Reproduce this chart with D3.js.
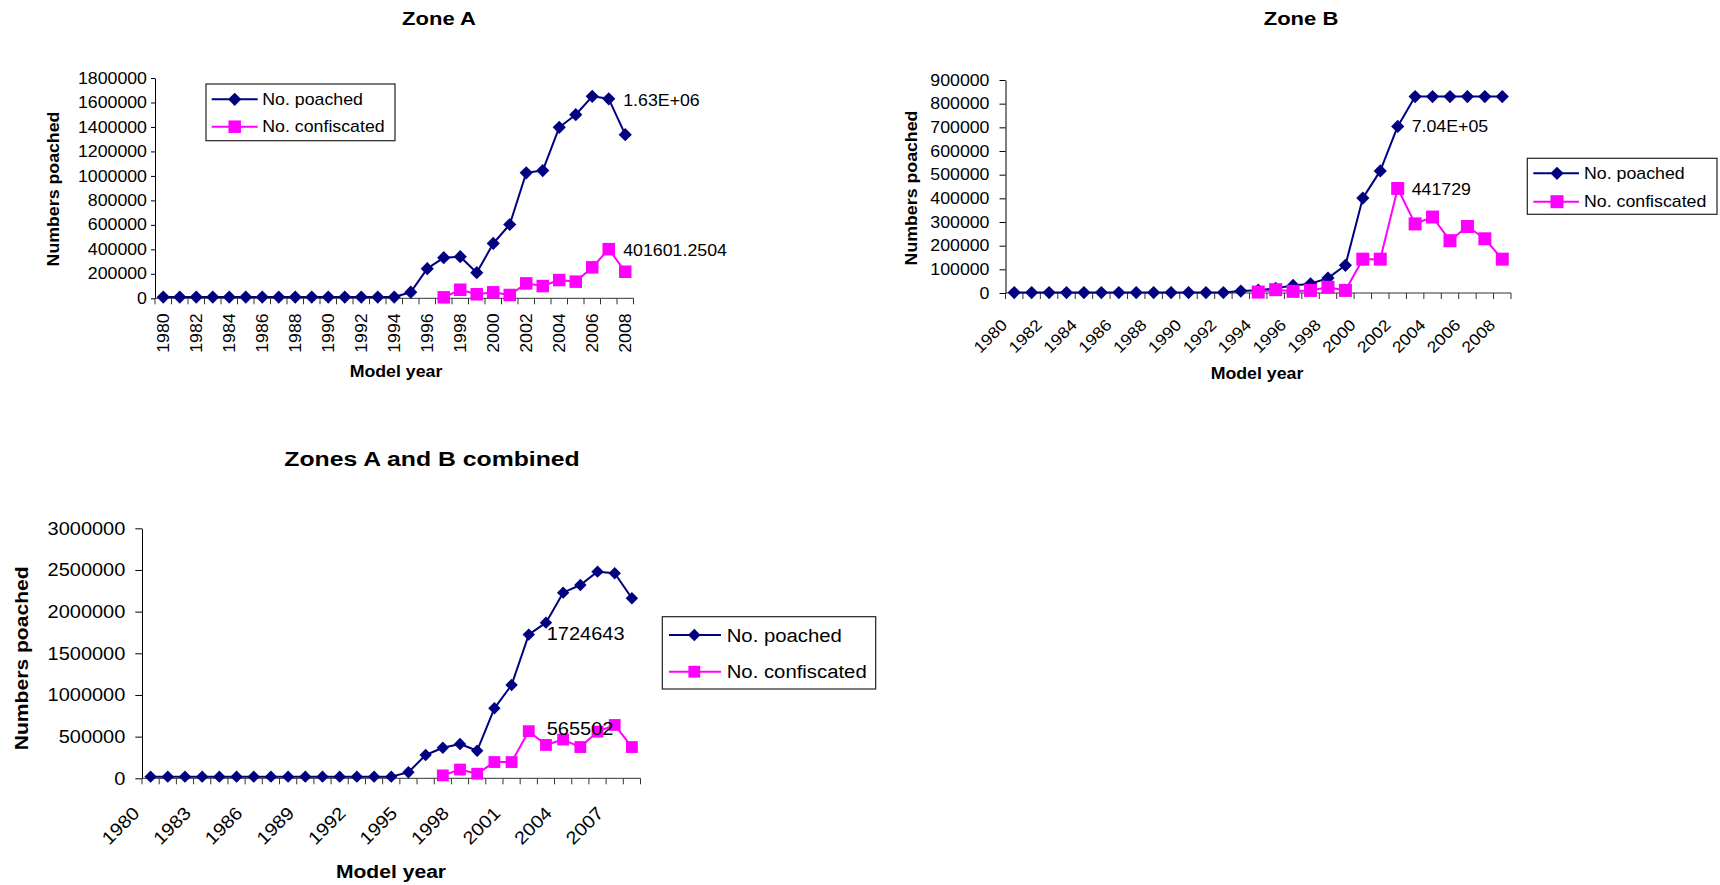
<!DOCTYPE html>
<html><head><meta charset="utf-8">
<script src="https://cdn.jsdelivr.net/npm/d3@7"></script>
<style>
html,body{margin:0;padding:0;background:#fff;}
svg{display:block;}
text{font-family:"Liberation Sans",Arial,Helvetica,sans-serif;fill:#000;}
</style>
</head><body>
<svg id="c" width="1720" height="885"></svg>
<script>
// ---------------- DATA ----------------
const years = [1980,1981,1982,1983,1984,1985,1986,1987,1988,1989,1990,1991,1992,1993,1994,1995,1996,1997,1998,1999,2000,2001,2002,2003,2004,2005,2006,2007,2008];

const zoneAPoached = [10000,10000,10000,10000,10000,10000,10000,10000,10000,10000,10000,10000,10000,10000,10000,
  50000,242000,332000,340000,209000,448000,603000,1025000,1044000,1397000,1500000,1650000,1630000,1337000];
const zoneAConfiscated = [null,null,null,null,null,null,null,null,null,null,null,null,null,null,null,null,null,
  8000,70000,33000,49000,27000,122000,100000,149000,136000,253000,401601.2504,217000];

const zoneBPoached = [2000,2000,2000,2000,2000,2000,2000,2000,2000,2000,2000,2000,2000,
  8000,12000,20000,32000,39000,63000,117000,401000,516000,704000,830000,830000,830000,830000,830000,830000];
const zoneBConfiscated = [null,null,null,null,null,null,null,null,null,null,null,null,null,null,
  4000,14000,7000,11000,24000,11000,143000,143000,441729,292000,321000,221000,281000,229000,143000];

const combinedPoached = [20000,20000,20000,20000,20000,20000,20000,20000,20000,20000,20000,20000,20000,20000,20000,
  72000,280000,367000,412000,331000,840000,1120000,1724643,1868000,2228000,2320000,2480000,2460000,2160000];
const combinedConfiscated = [null,null,null,null,null,null,null,null,null,null,null,null,null,null,null,null,null,
  35000,105000,55000,195000,195000,565502,400000,465000,375000,560000,640000,375000];

const yTicksA = [0,200000,400000,600000,800000,1000000,1200000,1400000,1600000,1800000];
const yTicksB = [0,100000,200000,300000,400000,500000,600000,700000,800000,900000];
const yTicksC = [0,500000,1000000,1500000,2000000,2500000,3000000];

const xLabelsA = [1980,1982,1984,1986,1988,1990,1992,1994,1996,1998,2000,2002,2004,2006,2008];
const xLabelsB = [1980,1982,1984,1986,1988,1990,1992,1994,1996,1998,2000,2002,2004,2006,2008];
const xLabelsC = [1980,1983,1986,1989,1992,1995,1998,2001,2004,2007];

const seriesNames = ["No. poached","No. confiscated"];
const seriesColors = ["#000080","#FF00FF"];

const dataLabelsA = [{s:0, year:2007, text:"1.63E+06"}, {s:1, year:2007, text:"401601.2504"}];
const dataLabelsB = [{s:0, year:2002, text:"7.04E+05"}, {s:1, year:2002, text:"441729"}];
const dataLabelsC = [{s:0, year:2002, text:"1724643"}, {s:1, year:2002, text:"565502"}];

const titles = ["Zone A","Zone B","Zones A and B combined"];
const yTitle = "Numbers poached";
const xTitle = "Model year";

// ---------------- LAYOUT ----------------
const svg = d3.select("#c");

function stretchText(sel, x, y, rot, sx) {
  sel.attr("transform", `translate(${x},${y}) rotate(${rot}) scale(${sx},1)`);
}

function drawChart(cfg) {
  const g = svg.append("g");
  const x = d3.scaleBand().domain(years).range([cfg.left, cfg.right]).padding(0);
  const y = d3.scaleLinear().domain([0, cfg.yMax]).range([cfg.bottom, cfg.top]);
  const cx = d => x(d) + x.bandwidth() / 2;

  // title
  const t = g.append("text").text(cfg.title).attr("text-anchor","middle").attr("dy","0.35em")
    .attr("font-size", cfg.titleFs).attr("font-weight","bold");
  stretchText(t, cfg.titleX, cfg.titleY, 0, cfg.titleSx);

  // y axis
  const ya = g.append("g").attr("transform", `translate(${cfg.left},0)`)
    .call(d3.axisLeft(y).tickValues(cfg.yTicks).tickFormat(d3.format("d"))
      .tickSize(cfg.yTickLen).tickSizeOuter(0).tickPadding(cfg.yPad));
  ya.attr("font-size", null).attr("font-family", null);
  ya.select(".domain").attr("stroke","#000").attr("stroke-width",1);
  ya.selectAll(".tick line").attr("stroke","#000");
  ya.selectAll(".tick text").attr("font-size", cfg.fs).attr("fill","#000")
    .each(function(){
      const xx = +this.getAttribute("x");
      d3.select(this).attr("x", 0).attr("transform", `translate(${xx},0) scale(${cfg.sx},1)`);
    });

  // x axis line + ticks at category boundaries
  const xa = g.append("g");
  xa.append("line").attr("x1", cfg.left).attr("x2", cfg.right)
    .attr("y1", cfg.bottom).attr("y2", cfg.bottom).attr("stroke","#333").attr("stroke-width",1);
  const bounds = years.map(d => x(d)).concat([x.range()[1]]);
  xa.selectAll("line.tk").data(bounds).join("line").attr("class","tk")
    .attr("x1", d => d).attr("x2", d => d)
    .attr("y1", cfg.bottom).attr("y2", cfg.bottom + 6).attr("stroke","#333").attr("stroke-width",1);

  // x tick labels
  xa.selectAll("text.xl").data(cfg.xLabels).join("text").attr("class","xl")
    .text(d => d).attr("font-size", cfg.fs).attr("text-anchor","end")
    .attr("dy", cfg.xRot === -90 ? "0.35em" : "0")
    .attr("transform", d => `translate(${cx(d) + cfg.xLabDx},${cfg.bottom + cfg.xLabDy}) rotate(${cfg.xRot}) scale(${cfg.sx},1)`);

  // axis titles
  const yt = g.append("text").text(yTitle).attr("text-anchor","middle").attr("dy","0.35em")
    .attr("font-size", cfg.axFs).attr("font-weight","bold");
  stretchText(yt, cfg.yTitleX, cfg.yTitleY, -90, cfg.sx);
  const xt = g.append("text").text(xTitle).attr("text-anchor","middle").attr("dy","0.35em")
    .attr("font-size", cfg.axFs).attr("font-weight","bold");
  stretchText(xt, cfg.xTitleX, cfg.xTitleY, 0, cfg.sx);

  // series
  const line = d3.line().defined(d => d.v != null).x(d => cx(d.year)).y(d => y(d.v));
  cfg.series.forEach((vals, si) => {
    const pts = years.map((yr, i) => ({year: yr, v: vals[i]}));
    const sg = g.append("g");
    sg.append("path").datum(pts).attr("d", line).attr("fill","none")
      .attr("stroke", seriesColors[si]).attr("stroke-width", 2).attr("stroke-linejoin","round");
    const valid = pts.filter(d => d.v != null);
    if (si === 0) {
      const r = cfg.diamond;
      sg.selectAll("path.m").data(valid).join("path").attr("class","m")
        .attr("d", `M0,${-r}L${r},0L0,${r}L${-r},0Z`)
        .attr("transform", d => `translate(${cx(d.year)},${y(d.v)})`)
        .attr("fill", seriesColors[si]);
    } else {
      const s = cfg.square;
      sg.selectAll("rect.m").data(valid).join("rect").attr("class","m")
        .attr("x", d => cx(d.year) - s/2).attr("y", d => y(d.v) - s/2)
        .attr("width", s).attr("height", s).attr("fill", seriesColors[si]);
    }
  });

  // data labels
  cfg.labels.forEach(l => {
    const v = cfg.series[l.s][years.indexOf(l.year)];
    const tx = g.append("text").text(l.text).attr("font-size", cfg.fs).attr("dy","0.35em");
    stretchText(tx, cx(l.year) + cfg.labDx, y(v) + cfg.labDy[l.s], 0, cfg.sx);
  });

  // legend
  const L = cfg.legend;
  const lg = g.append("g");
  lg.append("rect").attr("x", L.x0).attr("y", L.y0).attr("width", L.x1 - L.x0).attr("height", L.y1 - L.y0)
    .attr("fill","#fff").attr("stroke","#222").attr("stroke-width",1.2);
  seriesNames.forEach((nm, si) => {
    const ry = L.rows[si];
    lg.append("line").attr("x1", L.lx0).attr("x2", L.lx1).attr("y1", ry).attr("y2", ry)
      .attr("stroke", seriesColors[si]).attr("stroke-width", 2);
    if (si === 0) {
      const r = cfg.diamond;
      lg.append("path").attr("d", `M0,${-r}L${r},0L0,${r}L${-r},0Z`)
        .attr("transform", `translate(${L.mx},${ry})`).attr("fill", seriesColors[si]);
    } else {
      const s = cfg.square;
      lg.append("rect").attr("x", L.mx - s/2).attr("y", ry - s/2).attr("width", s).attr("height", s)
        .attr("fill", seriesColors[si]);
    }
    const lt = lg.append("text").text(nm).attr("font-size", L.fs).attr("dy","0.35em");
    stretchText(lt, L.tx, ry, 0, L.sx);
  });
}

drawChart({
  title: titles[0], titleX: 439, titleY: 18.5, titleFs: 19, titleSx: 1.16,
  left: 155, right: 633.5, top: 78, bottom: 298.3, yMax: 1800000, yTicks: yTicksA,
  yTickLen: 4, yPad: 4, fs: 16, sx: 1.11, axFs: 16,
  xLabels: xLabelsA, xRot: -90, xLabDx: 0, xLabDy: 15,
  yTitleX: 53.5, yTitleY: 189, xTitleX: 396, xTitleY: 371,
  series: [zoneAPoached, zoneAConfiscated], diamond: 6.6, square: 12.5,
  labels: dataLabelsA, labDx: 14.5, labDy: [2, 1],
  legend: {x0: 206, y0: 84, x1: 395, y1: 140.7, rows: [99.3, 126.7], lx0: 211.7, lx1: 257.7, mx: 234.7, tx: 262.3, fs: 16, sx: 1.11}
});

drawChart({
  title: titles[1], titleX: 1301, titleY: 18.5, titleFs: 19, titleSx: 1.16,
  left: 1005.5, right: 1511, top: 80, bottom: 293, yMax: 900000, yTicks: yTicksB,
  yTickLen: 6, yPad: 10, fs: 16, sx: 1.11, axFs: 16,
  xLabels: xLabelsB, xRot: -45, xLabDx: -6, xLabDy: 33,
  yTitleX: 911.7, yTitleY: 188, xTitleX: 1257, xTitleY: 373,
  series: [zoneBPoached, zoneBConfiscated], diamond: 6.6, square: 13,
  labels: dataLabelsB, labDx: 14, labDy: [0, 1],
  legend: {x0: 1527.3, y0: 158.3, x1: 1717, y1: 214.3, rows: [173.3, 201.7], lx0: 1533.3, lx1: 1579, mx: 1557, tx: 1584, fs: 16, sx: 1.11}
});

drawChart({
  title: titles[2], titleX: 432, titleY: 458.3, titleFs: 21, titleSx: 1.18,
  left: 142, right: 640.5, top: 528.3, bottom: 778.3, yMax: 3000000, yTicks: yTicksC,
  yTickLen: 6.7, yPad: 10, fs: 18, sx: 1.11, axFs: 19,
  xLabels: xLabelsC, xRot: -45, xLabDx: -10, xLabDy: 36,
  yTitleX: 21.2, yTitleY: 658.3, xTitleX: 391, xTitleY: 871.7,
  series: [combinedPoached, combinedConfiscated], diamond: 6.2, square: 11.8,
  labels: dataLabelsC, labDx: 18, labDy: [-1.3, -2],
  legend: {x0: 662.3, y0: 616.7, x1: 875.7, y1: 689, rows: [635, 671.7], lx0: 669, lx1: 721, mx: 694.3, tx: 726.7, fs: 19, sx: 1.07}
});
</script>
</body></html>
